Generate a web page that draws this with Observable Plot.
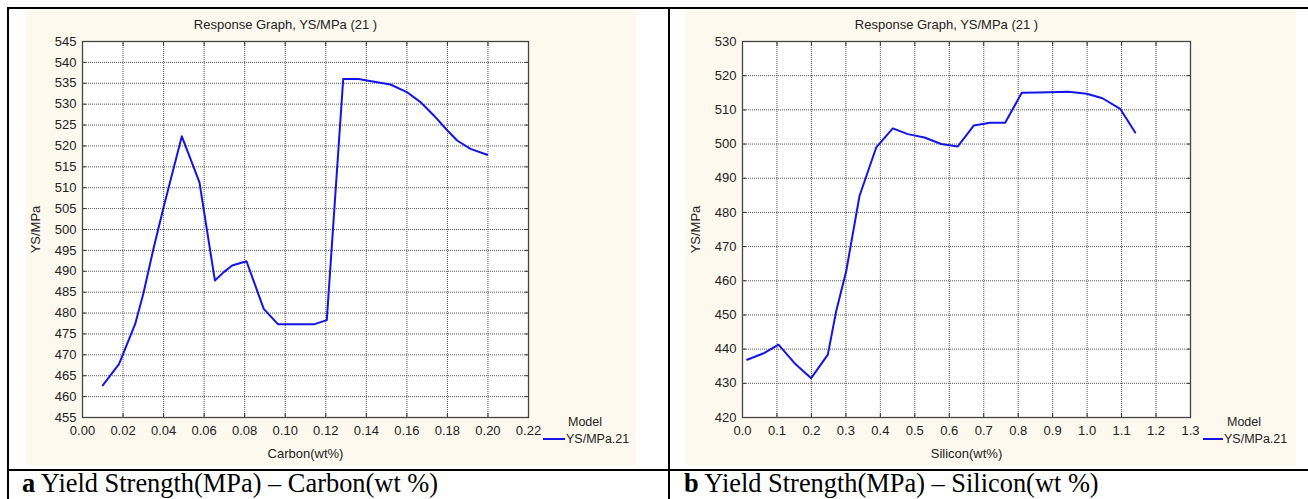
<!DOCTYPE html>
<html>
<head>
<meta charset="utf-8">
<script src="https://cdn.jsdelivr.net/npm/d3@7"></script>
<script src="https://cdn.jsdelivr.net/npm/@observablehq/plot@0.6"></script>
<style>
  body { margin: 0; background: #fff; }
  #root { position: relative; width: 1308px; height: 499px; overflow: hidden; font-family: "Liberation Sans", Arial, sans-serif; }
  .bl { position: absolute; background: #000; }
  .chart { position: absolute; top: 8px; }
  .legend { position: absolute; font-family: "Liberation Sans", Arial, sans-serif; font-size: 12.5px; color: #222; }
  .legend .model { position: absolute; top: 0; width: 60px; text-align: center; line-height: 14px; }
  .legend .sw { position: absolute; height: 2px; background: #1414e6; }
  .legend .lbl { position: absolute; line-height: 14px; white-space: nowrap; }
  .cap { position: absolute; top: 472px; font-family: "Liberation Serif", "Times New Roman", serif; font-size: 26.4px; line-height: 22px; color: #000; white-space: nowrap; }
</style>
</head>
<body>
<div id="root">
  <div class="chart" id="c1" style="left:26px"></div>
  <div class="chart" id="c2" style="left:686px"></div>

  <div class="bl" style="left:7px; top:7px; width:1301px; height:2px"></div>
  <div class="bl" style="left:7px; top:7px; width:2px; height:492px"></div>
  <div class="bl" style="left:668px; top:7px; width:2px; height:492px"></div>
  <div class="bl" style="left:7px; top:469px; width:1301px; height:2px"></div>

  <div class="legend" style="left:0; top:0">
    <div class="model" style="left:555px; top:415px">Model</div>
    <div class="sw" style="left:543px; top:438px; width:22px"></div>
    <div class="lbl" style="left:566px; top:432px">YS/MPa.21</div>
    <div class="model" style="left:1214px; top:415px">Model</div>
    <div class="sw" style="left:1203px; top:438px; width:20px"></div>
    <div class="lbl" style="left:1224px; top:432px">YS/MPa.21</div>
  </div>

  <div class="cap" style="left:22px"><b>a</b> Yield Strength(MPa) – Carbon(wt %)</div>
  <div class="cap" style="left:684px"><b>b</b> Yield Strength(MPa) – Silicon(wt %)</div>
</div>
<script>
// ---- Data ----
const chartTitle = "Response Graph, YS/MPa (21 )";
const yLabel = "YS/MPa";

const carbonX = [0.010, 0.018, 0.026, 0.030, 0.035, 0.040, 0.049, 0.0577, 0.0653, 0.0697, 0.0738, 0.0809, 0.0894, 0.0965, 0.1141, 0.1205, 0.1286, 0.1363, 0.1396, 0.1519, 0.160, 0.1667, 0.1733, 0.180, 0.1848, 0.1914, 0.1996];
const carbonYS = [462.7, 467.8, 477.4, 484.6, 495.4, 505.3, 522.3, 511.3, 487.8, 489.8, 491.4, 492.4, 481.0, 477.3, 477.3, 478.3, 536.0, 536.0, 535.7, 534.7, 532.9, 530.5, 527.3, 523.7, 521.3, 519.3, 517.9];
const carbonXTicks = [0.00, 0.02, 0.04, 0.06, 0.08, 0.10, 0.12, 0.14, 0.16, 0.18, 0.20, 0.22];
const carbonYTicks = [455, 460, 465, 470, 475, 480, 485, 490, 495, 500, 505, 510, 515, 520, 525, 530, 535, 540, 545];

const siliconX = [0.0136, 0.0638, 0.1045, 0.151, 0.1993, 0.2476, 0.2718, 0.3009, 0.3395, 0.388, 0.4362, 0.4797, 0.528, 0.5766, 0.6248, 0.671, 0.7187, 0.7622, 0.8104, 0.8589, 0.946, 0.999, 1.0446, 1.096, 1.1395];
const siliconYS = [436.9, 438.9, 441.3, 435.9, 431.5, 438.4, 451.1, 462.8, 484.8, 499.0, 504.6, 502.9, 501.9, 500.0, 499.3, 505.4, 506.2, 506.2, 515.0, 515.1, 515.3, 514.7, 513.4, 510.3, 503.4];
const siliconXTicks = [0.0, 0.1, 0.2, 0.3, 0.4, 0.5, 0.6, 0.7, 0.8, 0.9, 1.0, 1.1, 1.2, 1.3];
const siliconYTicks = [420, 430, 440, 450, 460, 470, 480, 490, 500, 510, 520, 530];

function makeChart({xs, ys, xTicks, yTicks, xFmt, xLabel, marginRight}) {
  const data = xs.map((x, i) => ({x, y: ys[i]}));
  const gridStyle = {stroke: "#555", strokeOpacity: 1, strokeDasharray: "1,1", strokeWidth: 1};
  const tickStyle = {fontSize: 13, fill: "#222", label: null};
  return Plot.plot({
    width: 610,
    height: 457,
    marginLeft: 56,
    marginRight: marginRight,
    marginTop: 33,
    marginBottom: 48,
    style: {background: "#fdf9ee", fontFamily: "Liberation Sans, Arial, sans-serif", color: "#222"},
    x: {domain: [xTicks[0], xTicks[xTicks.length - 1]]},
    y: {domain: [yTicks[0], yTicks[yTicks.length - 1]]},
    marks: [
      Plot.frame({fill: "white"}),
      Plot.gridX(xTicks, gridStyle),
      Plot.gridY(yTicks, gridStyle),
      Plot.axisX(xTicks, {...tickStyle, tickSize: 0, tickPadding: 8, tickFormat: d3.format(xFmt)}),
      Plot.axisY(yTicks, {...tickStyle, tickSize: 0, tickPadding: 6, tickFormat: d3.format("d")}),
      Plot.axisX(xTicks, {anchor: "top", tickSize: -4, tickFormat: () => "", label: null, stroke: "#333"}),
      Plot.axisX(xTicks, {anchor: "bottom", tickSize: -4, tickFormat: () => "", label: null, stroke: "#333"}),
      Plot.axisY(yTicks, {anchor: "right", tickSize: -4, tickFormat: () => "", label: null, stroke: "#333"}),
      Plot.axisY(yTicks, {anchor: "left", tickSize: -4, tickFormat: () => "", label: null, stroke: "#333"}),
      Plot.frame({stroke: "#444", strokeWidth: 1.3}),
      Plot.line(data, {x: "x", y: "y", stroke: "#1414e6", strokeWidth: 2, strokeLinejoin: "round"}),
      Plot.text([chartTitle], {text: d => d, frameAnchor: "top", lineAnchor: "middle", dy: -17, dx: -20, fontSize: 13, fill: "#222"}),
      Plot.text([yLabel], {text: d => d, frameAnchor: "left", textAnchor: "middle", lineAnchor: "middle", rotate: -90, dx: -47, fontSize: 13, fill: "#222"}),
      Plot.text([xLabel], {text: d => d, frameAnchor: "bottom", lineAnchor: "middle", dy: 36, fontSize: 13, fill: "#222"})
    ]
  });
}

document.getElementById("c1").appendChild(makeChart({
  xs: carbonX, ys: carbonYS, xTicks: carbonXTicks, yTicks: carbonYTicks,
  xFmt: ".2f", xLabel: "Carbon(wt%)", marginRight: 108
}));
document.getElementById("c2").appendChild(makeChart({
  xs: siliconX, ys: siliconYS, xTicks: siliconXTicks, yTicks: siliconYTicks,
  xFmt: ".1f", xLabel: "Silicon(wt%)", marginRight: 106
}));
</script>
</body>
</html>
